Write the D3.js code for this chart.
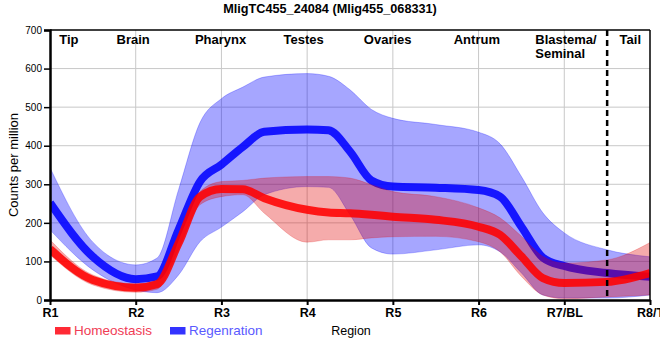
<!DOCTYPE html>
<html><head><meta charset="utf-8">
<script src="https://cdn.jsdelivr.net/npm/d3@7"></script>
<style>
body{margin:0;background:#fff}
text{font-family:"Liberation Sans",Arial,Helvetica,sans-serif}
</style>
</head><body>
<svg id="chart" width="660" height="360"></svg>
<script>
// ---------- data ----------
const titleText = "MligTC455_24084 (Mlig455_068331)";
const positions = [0,0.5,1,1.25,1.5,1.75,2,2.25,2.5,3,3.25,3.5,3.75,4,4.5,5,5.25,5.5,5.75,6,6.5,7];
const homeoMean = [132,52,32,41,147,268,288,287,264,234,227,225,221,216,208,190,169,113,57,44,47,70];
const homeoHigh = [156,65,42,52,162,281,307,310,316,320,320,316,299,281,268,239,213,165,113,96,104,149];
const homeoLow  = [117,39,20,28,132,247,268,273,225,150,156,156,161,164,165,151,125,61,13,3,8,13];
const regenMean = [252,112,54,61,182,307,351,397,436,442,440,385,310,294,291,285,268,190,110,88,70,60];
const regenHigh = [343,150,91,109,286,460,522,552,578,587,580,545,494,471,455,435,405,320,226,174,130,112];
const regenLow  = [182,78,26,19,65,151,189,229,273,294,292,221,135,119,130,143,125,70,13,5,5,13];
const tickLabels = ["R1","R2","R3","R4","R5","R6","R7/BL","R8/T"];
const yTicks = [0,100,200,300,400,500,600,700];
const regionNames = [["Tip"],["Brain"],["Pharynx"],["Testes"],["Ovaries"],["Antrum"],["Blastema/","Seminal"],["Tail"]];
const regionPos = [0.22,0.97,1.99,2.96,3.94,4.98,6.02,6.77];
const boundaryPos = 6.5;
const seriesNames = ["Homeostasis","Regenration"];

// ---------- layout ----------
const W = 660, H = 360;
const m = {left:50, right:10, top:30, bottom:60};
const x = d3.scaleLinear().domain([0,7]).range([m.left, W - m.right]);
const y = d3.scaleLinear().domain([0,700]).range([H - m.bottom, m.top]);
const svg = d3.select("#chart");

svg.append("defs").append("clipPath").attr("id","plotclip")
  .append("rect").attr("x",x(0)).attr("y",y(700)).attr("width",x(7)-x(0)).attr("height",y(0)-y(700));

// gridlines
const grid = svg.append("g");
grid.selectAll("line.h").data(yTicks.filter(v=>v>0&&v<700)).join("line")
  .attr("x1",x(0)).attr("x2",x(7)).attr("y1",d=>y(d)).attr("y2",d=>y(d))
  .attr("stroke","#c8c8c8").attr("stroke-width",1);
grid.selectAll("line.v").data(d3.range(1,7)).join("line")
  .attr("x1",d=>x(d)).attr("x2",d=>x(d)).attr("y1",y(0)).attr("y2",y(700))
  .attr("stroke","#c8c8c8").attr("stroke-width",1);

// data rows
const rows = positions.map((p,i)=>({p, hm:homeoMean[i], hh:homeoHigh[i], hl:homeoLow[i], rm:regenMean[i], rh:regenHigh[i], rl:regenLow[i]}));
const curve = d3.curveMonotoneX;
const area = (lo,hi)=>d3.area().curve(curve).x(d=>x(d.p)).y0(d=>y(d[lo])).y1(d=>y(d[hi]));
const line = (k)=>d3.line().curve(curve).x(d=>x(d.p)).y(d=>y(d[k]));

const plot = svg.append("g").attr("clip-path","url(#plotclip)");
plot.append("path").datum(rows).attr("d",area("rl","rh"))
  .attr("fill","#0000ff").attr("fill-opacity",0.35)
  .attr("stroke","#0000ff").attr("stroke-opacity",0.25).attr("stroke-width",1);
plot.append("path").datum(rows).attr("d",line("rm"))
  .attr("fill","none").attr("stroke","#0000ff").attr("stroke-opacity",0.87).attr("stroke-width",8);
plot.append("path").datum(rows).attr("d",area("hl","hh"))
  .attr("fill","#e00000").attr("fill-opacity",0.33)
  .attr("stroke","#e00000").attr("stroke-opacity",0.2).attr("stroke-width",1);
plot.append("path").datum(rows).attr("d",line("hm"))
  .attr("fill","none").attr("stroke","#ff0000").attr("stroke-opacity",0.87).attr("stroke-width",8);

// boundary dashed line
svg.append("line").attr("x1",x(boundaryPos)).attr("x2",x(boundaryPos))
  .attr("y1",y(700)).attr("y2",y(0))
  .attr("stroke","#000").attr("stroke-width",2.5).attr("stroke-dasharray","6,4");

// frame: top & right thin
svg.append("line").attr("x1",x(0)).attr("x2",x(7)).attr("y1",y(700)).attr("y2",y(700)).attr("stroke","#000").attr("stroke-width",1.5);
svg.append("line").attr("x1",x(7)).attr("x2",x(7)).attr("y1",y(700)).attr("y2",y(0)).attr("stroke","#000").attr("stroke-width",1.5);

// axes
const yAxis = svg.append("g").attr("transform",`translate(${x(0)},0)`)
  .call(d3.axisLeft(y).tickValues(yTicks).tickSize(6).tickPadding(2));
yAxis.select(".domain").attr("stroke-width",2.5);
yAxis.selectAll(".tick line").attr("stroke-width",1.5);
yAxis.selectAll("text").attr("font-size","10px").attr("fill","#000")
  .style("font-family",'"Liberation Sans",Arial,sans-serif');

const xAxis = svg.append("g").attr("transform",`translate(0,${y(0)})`)
  .call(d3.axisBottom(x).tickValues(d3.range(0,8)).tickFormat((d,i)=>tickLabels[i]).tickSize(5).tickPadding(3).tickSizeOuter(0));
xAxis.select(".domain").attr("stroke-width",2.5);
xAxis.selectAll(".tick line").attr("stroke-width",2);
xAxis.selectAll("text").attr("font-size","12.5px").attr("font-weight","bold").attr("fill","#000")
  .style("font-family",'"Liberation Sans",Arial,sans-serif');

// region labels at top
regionNames.forEach((lines,i)=>{
  const t = svg.append("text").attr("font-size","13px").attr("font-weight","bold").attr("fill","#000");
  if(lines.length===1){
    t.attr("x",x(regionPos[i])).attr("y",44).attr("text-anchor","middle").text(lines[0]);
  } else {
    t.attr("text-anchor","start");
    const first = t.append("tspan").attr("y",44).text(lines[0]);
    const w = first.node().getComputedTextLength();
    const left = x(regionPos[i]) - w/2;
    first.attr("x",left);
    lines.slice(1).forEach((l,j)=>t.append("tspan").attr("x",left).attr("y",44+14*(j+1)).text(l));
  }
});

// title
svg.append("text").attr("x",330).attr("y",13).attr("text-anchor","middle")
  .attr("font-size","12.7px").attr("font-weight","bold").text(titleText);

// axis titles
svg.append("text").attr("transform",`translate(18,${(y(0)+y(700))/2}) rotate(-90)`)
  .attr("text-anchor","middle").attr("font-size","13px").text("Counts per million");
svg.append("text").attr("x",351).attr("y",335).attr("text-anchor","middle")
  .attr("font-size","12.5px").text("Region");

// legend
const legColors = ["#ff2a35","#3333ff"];
const legText = ["#f03c55","#5a5aff"];
const legX = [55,170];
seriesNames.forEach((n,i)=>{
  svg.append("rect").attr("x",legX[i]).attr("y",327).attr("width",15.5).attr("height",7.5).attr("fill",legColors[i]);
  svg.append("text").attr("x",legX[i]+19).attr("y",335).attr("font-size","13.5px").attr("fill",legText[i]).text(n);
});
</script>
</body></html>
